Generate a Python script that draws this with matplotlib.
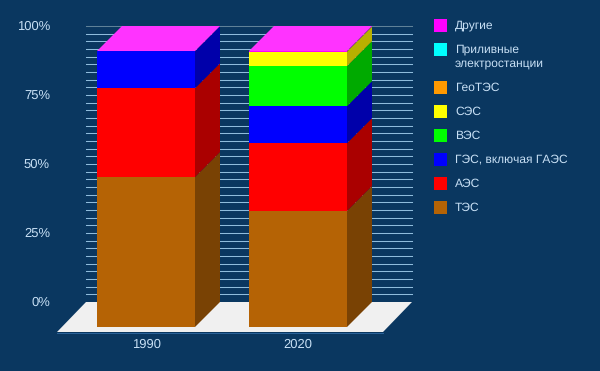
import matplotlib
matplotlib.use('Agg')
import matplotlib.pyplot as plt
from matplotlib.patches import Polygon, Rectangle
import numpy as np

plt.rcParams['font.family'] = ['Liberation Sans', 'DejaVu Sans']
plt.rcParams['text.hinting'] = 'no_hinting'
plt.rcParams['text.hinting_factor'] = 1

years = ['1990', '2020']
labels = ['ТЭС', 'АЭС', 'ГЭС, включая ГАЭС', 'ВЭС', 'СЭС', 'ГеоТЭС',
          'Приливные\nэлектростанции', 'Другие']
tes = [54.3, 42.0]
aes = [32.2, 24.6]
ges = [13.4, 13.4]
ves = [0.0, 14.5]
ses = [0.0, 5.3]
geo = [0.0, 0.0]
tidal = [0.0, 0.0]
other = [0.1, 0.2]
series = [tes, aes, ges, ves, ses, geo, tidal, other]

front = ['#b56305', '#ff0000', '#0000ff', '#00ff00', '#ffff00', '#ff9900', '#00ffff', '#ff00ff']
side = ['#794204', '#aa0000', '#0000aa', '#00aa00', '#b8b000', '#aa6600', '#00aaaa', '#aa00aa']
top_col = '#ff33ff'
bg = '#0a3760'
txt = '#c8e0f5'

W, H = 600, 371
px_x = 152.0     # pixels per category
px_y = 2.76      # pixels per percent
x0_px, y0_px = 146, 327
bar_w = 98 / px_x
dx = 25 / px_x   # depth of the 3d box
dy = 25 / px_y

fig = plt.figure(figsize=(W / 100, H / 100), dpi=100, facecolor=bg)
ax = fig.add_axes([0, 0, 1, 1])
ax.set_xlim(-x0_px / px_x, (W - x0_px) / px_x)
ax.set_ylim((y0_px - H) / px_y, y0_px / px_y)
ax.axis('off')

# floor
fx = lambda p: (p - x0_px) / px_x
fy = lambda p: (y0_px - p) / px_y
ax.add_patch(Polygon([(fx(57), fy(332)), (fx(383), fy(332)), (fx(412), fy(302)), (fx(86), fy(302))],
                     facecolor='#f0f0f0', edgecolor='none', zorder=1))
ax.plot([fx(57), fx(383)], [fy(332.6), fy(332.6)], color='#2c649b', lw=0.7, zorder=1)

# back wall lines, every 1/36 of the scale
for i in range(1, 37):
    p = i * 100 / 36
    ax.plot([fx(86), fx(412)], [p + dy, p + dy], lw=0.75,
            color='#5f8198' if i == 36 else '#8fbcdc', zorder=2)

# boxes
xs = np.arange(len(years))
bottom = np.zeros(len(years))
for vals, c, s in zip(series, front, side):
    vals = np.array(vals)
    ax.bar(xs, vals, bar_w, bottom=bottom, color=c, zorder=3, linewidth=0)
    for x, b, v in zip(xs, bottom, vals):
        if v == 0:
            continue
        r = x + bar_w / 2
        ax.add_patch(Polygon([(r, b), (r + dx, b + dy), (r + dx, b + v + dy), (r, b + v)],
                             facecolor=s, edgecolor='none', zorder=3))
    bottom = bottom + vals
for x, t in zip(xs, bottom):
    l = x - bar_w / 2
    ax.add_patch(Polygon([(l, t), (l + bar_w, t), (l + bar_w + dx, t + dy), (l + dx, t + dy)],
                         facecolor=top_col, edgecolor='none', zorder=4))

# axis texts
for p in [0, 25, 50, 75, 100]:
    ax.text(fx(50), p + dy - 0.2, '%d%%' % p, color=txt, fontsize=9, ha='right', va='center')
for x, y in zip(xs, years):
    ax.text(x, fy(345), y, color=txt, fontsize=9, ha='center', va='center')

# legend, top row first
rows = [207.5, 183.5, 159.5, 135.5, 111.5, 87.5, 56.5, 25.5]
for lab, c, r in zip(labels, front, rows):
    sq_y = 49.5 if '\n' in lab else r
    ax.add_patch(Rectangle((fx(434), fy(sq_y + 6.5)), 13 / px_x, 13 / px_y, facecolor=c,
                           edgecolor='none', zorder=5))
    ax.text(fx(455), fy(r), lab, color=txt, fontsize=8.8, ha='left', va='center', linespacing=1.25)

fig.savefig('out.png', dpi=100, facecolor=bg)
